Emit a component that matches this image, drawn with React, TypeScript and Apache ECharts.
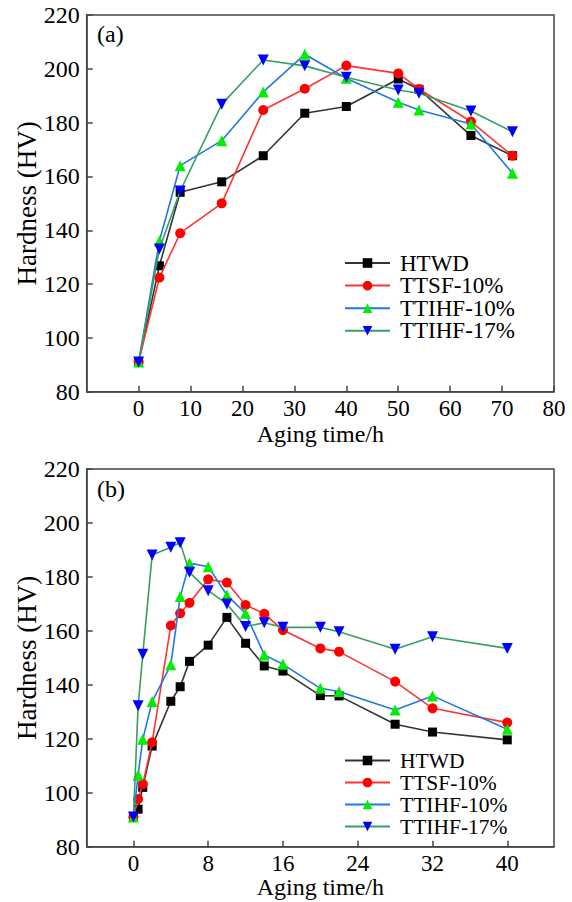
import React, { useEffect, useRef } from 'react';
import * as echarts from 'echarts';

const NAMES = ['HTWD', 'TTSF-10%', 'TTIHF-10%', 'TTIHF-17%'];

// Panel (a)
const X_A = [0, 4, 8, 16, 24, 32, 40, 50, 54, 64, 72];
const HTWD_A = [91, 126.8, 154.1, 158, 167.7, 183.5, 186, 196.2, 192.4, 175.2, 167.7];
const TTSF10_A = [91, 122.4, 138.9, 150, 184.7, 192.6, 201.2, 198.3, 192.5, 180.4, 167.7];
const TTIHF10_A = [91, 136, 164, 173.3, 191.4, 205.4, 196.5, 187.6, 184.7, 179.5, 161.2];
const TTIHF17_A = [91, 133, 154.6, 186.8, 203.3, 201.1, 196.9, 192.1, 190.9, 184.3, 176.6];
const XTICKS_A = [0, 10, 20, 30, 40, 50, 60, 70, 80];

// Panel (b)
const X_B = [0, 0.5, 1, 2, 4, 5, 6, 8, 10, 12, 14, 16, 20, 22, 28, 32, 40];
const HTWD_B = [91, 93.9, 102, 117.3, 133.9, 139.3, 148.7, 154.7, 165.0, 155.4, 147.0, 145.1, 136.0, 135.9, 125.4, 122.5, 119.6];
const TTSF10_B = [91, 97.7, 103.2, 118.7, 162, 166.5, 170.4, 179.1, 177.9, 169.6, 166.3, 160.3, 153.5, 152.3, 141.2, 131.3, 126.0];
const TTIHF10_B = [91, 106.6, 119.8, 133.8, 147.4, 172.7, 185.1, 183.8, 173.3, 166.5, 151.1, 147.6, 138.7, 137.5, 130.7, 135.9, 123.5];
const TTIHF17_B = [91, 132.2, 151.3, 188.1, 191.0, 192.7, 181.7, 174.9, 170.0, 161.6, 163.0, 161.3, 161.3, 159.7, 153.2, 157.8, 153.5];
const XTICKS_B = [0, 8, 16, 24, 32, 40];

const FONT = 'Liberation Serif';

const STYLES = [
  { line: '#333333', marker: '#000000', symbol: 'rect', size: 9, rotate: 0 },
  { line: '#ff3333', marker: '#ff0000', symbol: 'circle', size: 10, rotate: 0 },
  { line: '#1f78e6', marker: '#00ee00', symbol: 'triangle', size: 11, rotate: 0 },
  { line: '#35a062', marker: '#0000ff', symbol: 'triangle', size: 11, rotate: 180 },
];

function makeSeries(xs: number[], ys: number[][], axisIndex: number) {
  return ys.map((vals, i) => {
    const s = STYLES[i];
    return {
      type: 'line',
      name: NAMES[i],
      xAxisIndex: axisIndex,
      yAxisIndex: axisIndex,
      data: xs.map((x, j) => [x, vals[j]]),
      symbol: s.symbol,
      symbolSize: s.size,
      symbolRotate: s.rotate,
      showAllSymbol: true,
      lineStyle: { color: s.line, width: 1.6 },
      itemStyle: { color: s.marker },
      z: 2 + i,
    };
  });
}

const axisLineStyle = { color: '#444', width: 1.5 };

function xAxis(gridIndex: number, min: number, max: number, ticks: number[], nameGap: number) {
  return {
    type: 'value',
    gridIndex,
    min,
    max,
    name: 'Aging time/h',
    nameLocation: 'middle',
    nameGap,
    nameMoveOverlap: false,
    nameTextStyle: { fontFamily: FONT, fontSize: 24, color: '#000' },
    axisLine: { show: true, onZero: false, lineStyle: axisLineStyle },
    axisTick: { show: true, inside: true, length: 6, customValues: ticks, lineStyle: axisLineStyle },
    axisLabel: { customValues: ticks, fontFamily: FONT, fontSize: 23, color: '#000', margin: 5 },
    splitLine: { show: false },
  };
}

function yAxis(gridIndex: number) {
  return {
    type: 'value',
    gridIndex,
    min: 80,
    max: 220,
    interval: 20,
    name: 'Hardness (HV)',
    nameLocation: 'middle',
    nameGap: 46,
    nameMoveOverlap: false,
    nameTextStyle: { fontFamily: FONT, fontSize: 27, color: '#000' },
    axisLine: { show: true, onZero: false, lineStyle: axisLineStyle },
    axisTick: { show: true, inside: true, length: 6, lineStyle: axisLineStyle },
    axisLabel: { fontFamily: FONT, fontSize: 24, color: '#000', margin: 7 },
    splitLine: { show: false },
  };
}

function legend(top: number, gap: number, fontSize: number) {
  return {
    data: NAMES,
    orient: 'vertical',
    left: 344,
    top,
    padding: 0,
    itemGap: gap,
    itemWidth: 45,
    itemHeight: 12,
    textStyle: { fontFamily: FONT, fontSize, color: '#000', padding: [0, 0, 0, 5] },
    selectedMode: false,
  };
}

export default function App() {
  const ref = useRef<HTMLDivElement>(null);
  useEffect(() => {
    document.body.style.margin = '0';
    const chart = echarts.init(ref.current!, null, { renderer: 'svg' });
    const gridCommon = {
      left: 86.7, right: 18, show: true, borderColor: '#444', borderWidth: 1.5,
      backgroundColor: 'transparent', containLabel: false, outerBoundsMode: 'none',
    };
    const option = {
      animation: false,
      backgroundColor: '#fff',
      textStyle: { fontFamily: FONT },
      grid: [
        { ...gridCommon, top: 15, height: 376.7 },
        { ...gridCommon, top: 469, height: 377.7 },
      ],
      xAxis: [xAxis(0, -10, 80, XTICKS_A, 30), xAxis(1, -5, 45, XTICKS_B, 28.5)],
      yAxis: [yAxis(0), yAxis(1)],
      legend: [legend(251.5, -0.4, 23), legend(749.5, 0, 21.5)],
      graphic: [
        { type: 'text', left: 97, top: 22, style: { text: '(a)', fontFamily: FONT, fontSize: 24, fill: '#000' } },
        { type: 'text', left: 97, top: 477, style: { text: '(b)', fontFamily: FONT, fontSize: 24, fill: '#000' } },
      ],
      series: [
        ...makeSeries(X_A, [HTWD_A, TTSF10_A, TTIHF10_A, TTIHF17_A], 0),
        ...makeSeries(X_B, [HTWD_B, TTSF10_B, TTIHF10_B, TTIHF17_B], 1),
      ],
    };
    chart.setOption(option as any);
    return () => chart.dispose();
  }, []);
  return <div ref={ref} style={{ width: 572, height: 902 }} />;
}
